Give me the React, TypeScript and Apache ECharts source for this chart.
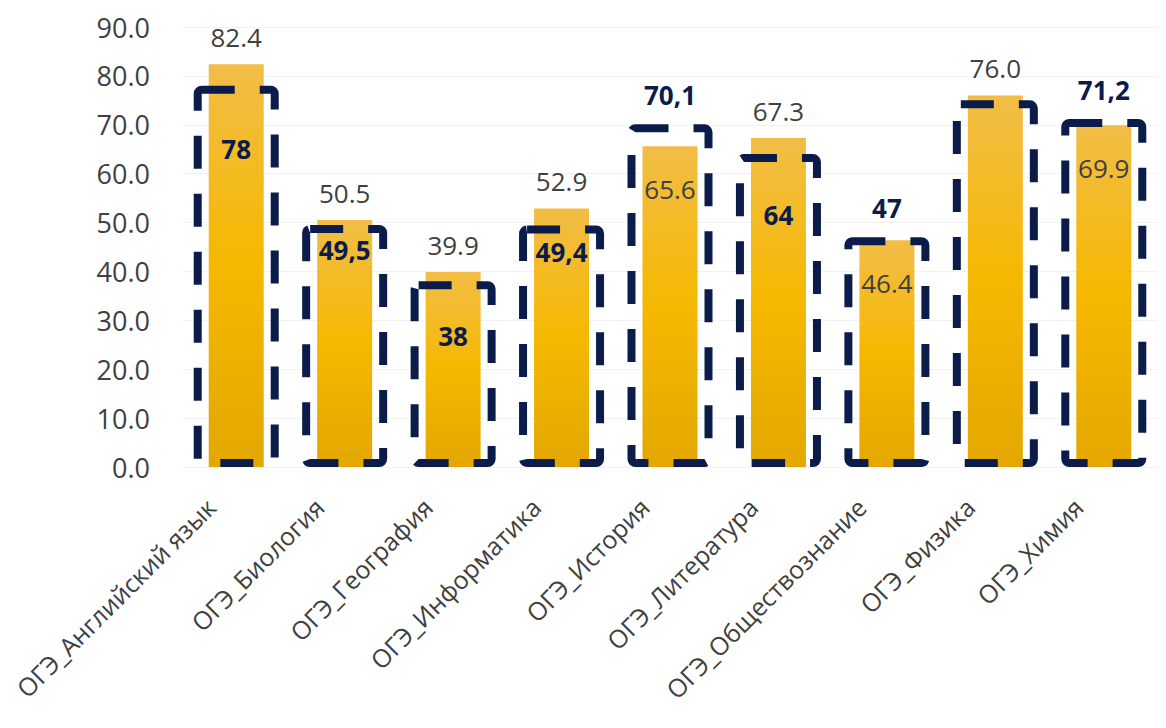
import React, { useEffect, useRef } from "react";
import * as echarts from "echarts";

const categories = [
  "ОГЭ_Английский язык",
  "ОГЭ_Биология",
  "ОГЭ_География",
  "ОГЭ_Информатика",
  "ОГЭ_История",
  "ОГЭ_Литература",
  "ОГЭ_Обществознание",
  "ОГЭ_Физика",
  "ОГЭ_Химия",
];
const schoolValues = [82.4, 50.5, 39.9, 52.9, 65.6, 67.3, 46.4, 76.0, 69.9];
const compareValues = [78, 49.5, 38, 49.4, 70.1, 64, 47, 75, 71.2];
const compareLabelShown = [true, true, true, true, true, true, true, false, true];

const NAVY = "#0b1c4b";
const FONT = "'Open Sans', 'Noto Sans', sans-serif";
// label offsets (style only)
const dashInsideDistance = [50, 12, 42, 14, 20, 48, 20, 20, 20];

export default function App() {
  const ref = useRef<HTMLDivElement>(null);
  useEffect(() => {
    if (!ref.current) return;
    const chart = echarts.init(ref.current, undefined, { renderer: "svg" });
    const goldData = schoolValues.map((v, i) => {
      const inside = compareValues[i] > v;
      return {
        value: v,
        label: {
          position: inside ? "insideTop" : "top",
          distance: inside ? 30 : 14,
        },
      };
    });
    const dashData = compareValues.map((v, i) => {
      const above = v > schoolValues[i];
      return {
        value: v,
        label: {
          show: compareLabelShown[i],
          position: above ? "top" : "insideTop",
          distance: above ? 16 : dashInsideDistance[i],
        },
      };
    });
    chart.setOption({
      animation: false,
      textStyle: { fontFamily: FONT },
      grid: {
        left: 174,
        right: 0,
        top: 19,
        bottom: 253,
        containLabel: false,
        outerBoundsMode: "none",
      },
      xAxis: [
        {
          type: "category",
          data: categories,
          axisLine: { show: false },
          axisTick: { show: false },
          axisLabel: {
            rotate: 45,
            interval: 0,
            fontSize: 25,
            color: "#404040",
            fontFamily: FONT,
            margin: 10,
            padding: [0, 36, 0, 0],
          },
        },
        {
          type: "category",
          data: categories,
          show: false,
        },
      ],
      yAxis: {
        type: "value",
        min: 0,
        max: 90,
        interval: 10,
        axisLine: { show: false },
        axisTick: { show: false },
        splitLine: { lineStyle: { color: "#f2f2f2", width: 1 } },
        axisLabel: {
          fontSize: 27,
          color: "#404040",
          fontFamily: FONT,
          margin: 32,
          formatter: (v: number) => v.toFixed(1),
        },
      },
      series: [
        {
          type: "bar",
          xAxisIndex: 0,
          data: goldData,
          barWidth: 55,
          z: 2,
          itemStyle: {
            color: new echarts.graphic.LinearGradient(0, 0, 0, 1, [
              { offset: 0, color: "#f2bd47" },
              { offset: 0.5, color: "#f5b800" },
              { offset: 1, color: "#e3a700" },
            ]),
          },
          label: {
            show: true,
            fontSize: 26,
            color: "#404040",
            fontFamily: FONT,
            formatter: (p: any) => Number(p.value).toFixed(1),
          },
        },
        {
          type: "bar",
          xAxisIndex: 1,
          data: dashData,
          barWidth: 85,
          z: 3,
          itemStyle: {
            color: "rgba(0,0,0,0)",
            borderColor: NAVY,
            borderWidth: 8,
            borderType: [33, 25],
            borderRadius: 4,
          },
          label: {
            show: true,
            fontSize: 26,
            fontWeight: "bold",
            color: NAVY,
            fontFamily: FONT,
            formatter: (p: any) => String(p.value).replace(".", ","),
          },
        },
      ],
    });
    return () => chart.dispose();
  }, []);
  return <div ref={ref} style={{ width: 1150, height: 712 }} />;
}
